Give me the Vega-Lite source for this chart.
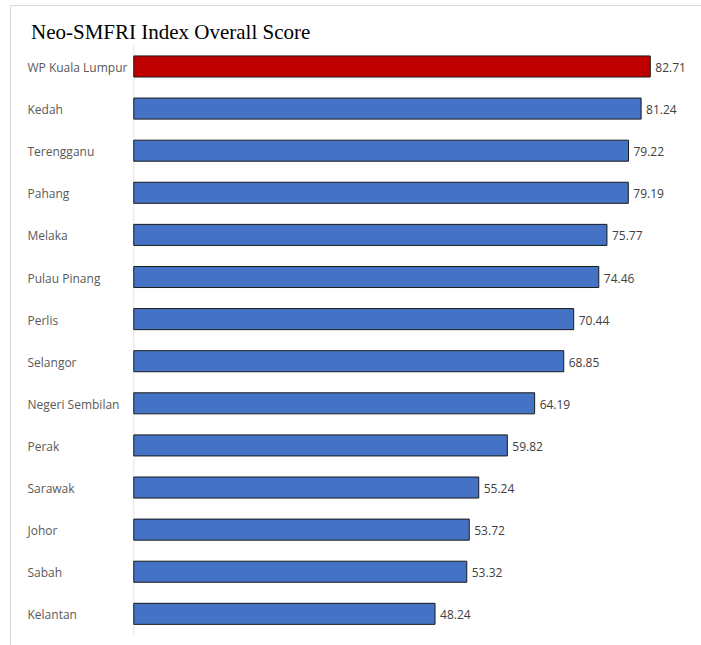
{
  "$schema": "https://vega.github.io/schema/vega-lite/v6.json",
  "autosize": {"type": "none"},
  "padding": {"left": 10, "top": 5, "right": 0, "bottom": 0},
  "width": 691,
  "height": 640,
  "background": "#ffffff",
  "config": {"view": {"stroke": "#d9d9d9", "strokeWidth": 1}},
  "title": {
    "text": "Neo-SMFRI Index Overall Score",
    "anchor": "start",
    "frame": "group",
    "font": "Liberation Serif",
    "fontSize": 21,
    "fontWeight": "normal",
    "color": "#000000",
    "baseline": "alphabetic",
    "offset": -55,
    "dx": 21
  },
  "data": {
    "values": [
      {"region": "WP Kuala Lumpur", "score": 82.71},
      {"region": "Kedah", "score": 81.24},
      {"region": "Terengganu", "score": 79.22},
      {"region": "Pahang", "score": 79.19},
      {"region": "Melaka", "score": 75.77},
      {"region": "Pulau Pinang", "score": 74.46},
      {"region": "Perlis", "score": 70.44},
      {"region": "Selangor", "score": 68.85},
      {"region": "Negeri Sembilan", "score": 64.19},
      {"region": "Perak", "score": 59.82},
      {"region": "Sarawak", "score": 55.24},
      {"region": "Johor", "score": 53.72},
      {"region": "Sabah", "score": 53.32},
      {"region": "Kelantan", "score": 48.24}
    ]
  },
  "encoding": {
    "y": {
      "field": "region",
      "type": "nominal",
      "sort": null,
      "scale": {"paddingInner": 0, "paddingOuter": 0.6, "align": 0.8},
      "axis": {
        "title": null,
        "domain": false,
        "ticks": false,
        "tickSize": 0,
        "grid": false,
        "labelAlign": "left",
        "labelPadding": -17,
        "labelOffset": 1.5,
        "labelFont": "Open Sans",
        "labelFontSize": 12,
        "labelColor": "#595959",
        "labelLimit": 200
      }
    }
  },
  "layer": [
    {
      "mark": {"type": "tick", "color": "#d9d9d9", "thickness": 1, "size": 42.1, "orient": "vertical"},
      "encoding": {
        "x": {"datum": 0, "type": "quantitative", "scale": {"domain": [-19.82, 90.83], "nice": false, "zero": false}, "axis": null}
      }
    },
    {
      "mark": {"type": "bar", "height": {"band": 0.5}, "stroke": "#1a1a1a", "strokeWidth": 1},
      "encoding": {
        "x": {"field": "score", "type": "quantitative", "scale": {"domain": [-19.82, 90.83], "nice": false, "zero": false}, "axis": null},
        "color": {"condition": {"test": "datum.region === 'WP Kuala Lumpur'", "value": "#C00000"}, "value": "#4472C4"}
      }
    },
    {
      "mark": {"type": "text", "align": "left", "dx": 5, "dy": 1.5, "font": "Open Sans", "fontSize": 12, "color": "#404040"},
      "encoding": {
        "x": {"field": "score", "type": "quantitative", "scale": {"domain": [-19.82, 90.83], "nice": false, "zero": false}, "axis": null},
        "text": {"field": "score", "type": "quantitative", "format": ".2f"}
      }
    }
  ]
}
